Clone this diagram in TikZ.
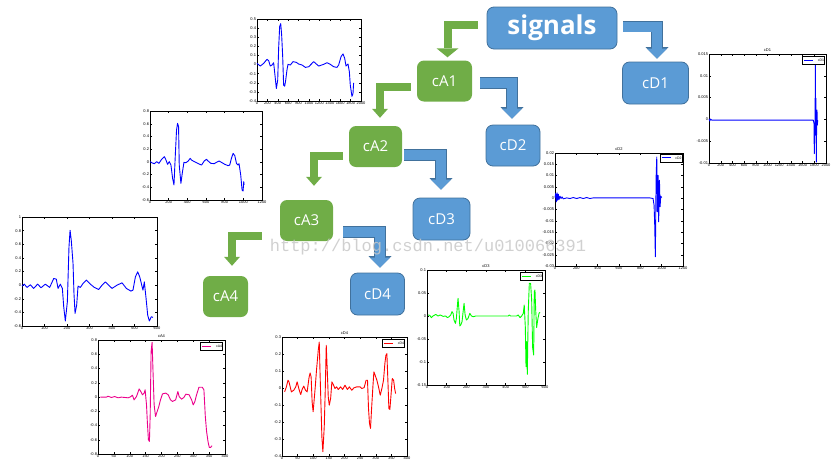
\documentclass[tikz,border=0pt]{standalone}
\usepackage{fontspec}
\usetikzlibrary{arrows.meta,positioning}
\newfontfamily\boxfont{Open Sans}
\newfontfamily\plotfont{Liberation Sans}
\newfontfamily\markfont{Liberation Mono}
\definecolor{boxgreen}{RGB}{112,173,71}
\definecolor{boxblue}{RGB}{91,155,213}
\definecolor{edgeblue}{RGB}{65,113,156}
\definecolor{markgray}{RGB}{200,200,200}
\tikzset{
  abox/.style={rectangle, rounded corners=7pt, fill=boxgreen, text=white,
               font=\boxfont\fontsize{15}{15}\selectfont, minimum height=41pt},
  dbox/.style={abox, fill=boxblue, draw=edgeblue, line width=0.8pt},
  garrow/.style={boxgreen, line width=8pt, line join=miter,
                 -{Triangle[width=#1,length=9pt,line width=0pt]}},
  garrow/.default=16pt,
  barrow/.style={boxblue, line width=10pt, line join=miter,
                 -{Triangle[width=20pt,length=10pt,line width=0pt]},
                 preaction={draw=edgeblue, line width=11.6pt,
                   -{Triangle[width=23pt,length=11.5pt,line width=0pt]}}},
  plotframe/.style={draw, fill=white, line width=0.7pt, inner sep=0pt, outer sep=0pt},
  tickmark/.style={line width=0.4pt},
  ticklabel/.style={inner sep=0.8pt, font=\plotfont\fontsize{4}{4}\selectfont},
  plottitle/.style={inner sep=0.5pt, font=\plotfont\fontsize{4}{4}\selectfont},
  legendbox/.style={draw, fill=white, line width=0.6pt, inner sep=0.6pt, text width=21pt,
                    align=right, minimum height=8pt, font=\plotfont\fontsize{3.5}{3.5}\selectfont},
  sig/.style={line width=0.9pt, line join=round},
  watermark/.style={font=\markfont\fontsize{17}{17}\selectfont, text=markgray, opacity=0.85}
}
% ticks and tick labels of one plot: name, x labels, x steps, y labels, y steps
\newcommand\plotaxes[5]{%
  \foreach \t [count=\k from 0] in {#2} {
    \draw[tickmark] (\k/#3,0) -- ++(0,2pt) (\k/#3,1) -- ++(0,-2pt);
    \node[ticklabel, below] (#1x\k) at (\k/#3,0) {\t};
  }
  \foreach \t [count=\k from 0] in {#4} {
    \draw[tickmark] (0,\k/#5) -- ++(2pt,0) (1,\k/#5) -- ++(-2pt,0);
    \node[ticklabel, left] (#1y\k) at (0,\k/#5) {\t};
  }
}
\begin{document}
\begin{tikzpicture}[x=1pt, y=-1pt]
\useasboundingbox (0,0) rectangle (837,472);

% approximation plots
\node[plotframe, minimum width=104pt, minimum height=82pt] (pA1) at (309,60) {};
\begin{scope}[shift={(pA1.south west)}, x=104pt, y=82pt]
  \plotaxes{A1}{0,200,400,600,800,1000,1200,1400,1600,1800,2000}{10}{-0.4,-0.3,-0.2,-0.1,0,0.1,0.2,0.3,0.4,0.5}{9}
  \draw[sig, blue] plot coordinates {(0,0.459) (0.032,0.426) (0.064,0.459) (0.096,0.508) (0.112,0.492) (0.128,0.426) (0.144,0.439) (0.160,0.467) (0.176,0.275) (0.186,0.152) (0.199,0.254) (0.208,0.643) (0.218,0.910) (0.228,0.943) (0.237,0.807) (0.247,0.541) (0.256,0.193) (0.266,0.180) (0.276,0.254) (0.288,0.377) (0.298,0.447) (0.321,0.439) (0.346,0.480) (0.378,0.471) (0.401,0.451) (0.433,0.439) (0.465,0.410) (0.497,0.418) (0.545,0.480) (0.593,0.426) (0.641,0.447) (0.673,0.467) (0.705,0.447) (0.737,0.418) (0.769,0.410) (0.785,0.439) (0.808,0.541) (0.827,0.574) (0.843,0.521) (0.856,0.426) (0.875,0.451) (0.888,0.357) (0.897,0.193) (0.913,0.057) (0.923,0.090) (0.929,0.221)};
\end{scope}

\node[plotframe, minimum width=112pt, minimum height=89pt] (pA2) at (206,155.5) {};
\begin{scope}[shift={(pA2.south west)}, x=112pt, y=89pt]
  \plotaxes{A2}{0,200,400,600,800,1000,1200}{6}{-0.6,-0.4,-0.2,0,0.2,0.4,0.6,0.8}{7}
  \draw[sig, blue] plot coordinates {(0,0.431) (0.021,0.416) (0.039,0.408) (0.059,0.431) (0.080,0.412) (0.104,0.457) (0.128,0.487) (0.139,0.461) (0.157,0.401) (0.172,0.431) (0.187,0.393) (0.202,0.243) (0.214,0.169) (0.226,0.506) (0.237,0.787) (0.246,0.861) (0.255,0.824) (0.261,0.393) (0.276,0.187) (0.288,0.300) (0.303,0.423) (0.320,0.419) (0.341,0.438) (0.359,0.468) (0.371,0.449) (0.386,0.438) (0.409,0.423) (0.445,0.401) (0.460,0.393) (0.484,0.438) (0.504,0.457) (0.519,0.438) (0.543,0.412) (0.573,0.408) (0.593,0.423) (0.617,0.438) (0.638,0.423) (0.668,0.401) (0.697,0.386) (0.712,0.393) (0.727,0.468) (0.742,0.524) (0.757,0.498) (0.772,0.412) (0.786,0.393) (0.795,0.408) (0.810,0.281) (0.822,0.112) (0.831,0.101) (0.837,0.206) (0.840,0.169)};
\end{scope}

\node[plotframe, minimum width=135pt, minimum height=109pt] (pA3) at (89.5,271.5) {};
\begin{scope}[shift={(pA3.south west)}, x=135pt, y=109pt]
  \plotaxes{A3}{0,100,200,300,400,500,600}{6}{-0.6,-0.4,-0.2,0,0.2,0.4,0.6,0.8,1}{8}
  \draw[sig, blue] plot coordinates {(0,0.366) (0.017,0.384) (0.037,0.354) (0.062,0.378) (0.086,0.345) (0.116,0.384) (0.141,0.351) (0.173,0.384) (0.205,0.354) (0.235,0.436) (0.254,0.430) (0.267,0.345) (0.284,0.384) (0.299,0.345) (0.309,0.177) (0.321,0.046) (0.336,0.223) (0.348,0.726) (0.356,0.878) (0.365,0.787) (0.378,0.573) (0.385,0.299) (0.393,0.116) (0.405,0.192) (0.415,0.366) (0.432,0.354) (0.452,0.390) (0.477,0.421) (0.506,0.384) (0.536,0.354) (0.568,0.335) (0.593,0.375) (0.617,0.405) (0.642,0.375) (0.667,0.345) (0.704,0.375) (0.741,0.396) (0.773,0.345) (0.807,0.320) (0.822,0.329) (0.840,0.451) (0.857,0.497) (0.872,0.451) (0.884,0.390) (0.896,0.329) (0.906,0.405) (0.919,0.253) (0.931,0.101) (0.943,0.046) (0.958,0.085) (0.970,0.079)};
\end{scope}

\node[plotframe, minimum width=127pt, minimum height=114pt] (pA4) at (161.5,397) {};
\begin{scope}[shift={(pA4.south west)}, x=127pt, y=114pt]
  \plotaxes{A4}{0,50,100,150,200,250,300,350,400}{8}{-0.8,-0.6,-0.4,-0.2,0,0.2,0.4,0.6,0.8}{8}
  \draw[sig, magenta] plot coordinates {(0.018,0.499) (0.066,0.499) (0.079,0.507) (0.105,0.496) (0.132,0.504) (0.158,0.493) (0.184,0.499) (0.237,0.493) (0.255,0.501) (0.271,0.516) (0.284,0.475) (0.303,0.504) (0.324,0.571) (0.337,0.548) (0.350,0.519) (0.363,0.534) (0.371,0.563) (0.382,0.431) (0.389,0.271) (0.397,0.125) (0.405,0.111) (0.411,0.344) (0.418,0.898) (0.426,0.980) (0.434,0.694) (0.442,0.431) (0.453,0.329) (0.466,0.373) (0.479,0.417) (0.492,0.475) (0.508,0.528) (0.534,0.534) (0.553,0.519) (0.571,0.475) (0.587,0.461) (0.611,0.475) (0.629,0.548) (0.639,0.504) (0.658,0.481) (0.676,0.496) (0.692,0.525) (0.718,0.519) (0.737,0.475) (0.750,0.431) (0.763,0.461) (0.776,0.519) (0.795,0.586) (0.821,0.586) (0.834,0.563) (0.845,0.329) (0.855,0.198) (0.866,0.111) (0.876,0.058) (0.887,0.058) (0.897,0.073)};
\end{scope}
\node[plottitle, above=1.5pt of pA4] (tA4) {cA4};
\node[legendbox, anchor=north east] (lA4) at ([xshift=-2pt,yshift=-2pt]pA4.north east) {cA4};
\draw[sig, magenta] ([xshift=2pt]lA4.west) -- ++(9pt,0);

% detail plots
\node[plotframe, minimum width=117pt, minimum height=109pt] (pD1) at (767.5,108.5) {};
\begin{scope}[shift={(pD1.south west)}, x=117pt, y=109pt]
  \plotaxes{D1}{0,200,400,600,800,1000,1200,1400,1600,1800,2000}{10}{-0.01,-0.005,0,0.005,0.01,0.015}{5}
  \draw[sig, blue] plot coordinates {(0,0.406) (0.006,0.385) (0.014,0.403) (0.023,0.394) (0.891,0.394) (0.897,0.363) (0.9,0.086) (0.903,0.363) (0.906,0.255) (0.909,0.902) (0.911,0.394) (0.914,0.594) (0.917,0.009) (0.920,0.363) (0.923,0.486) (0.926,0.348) (0.929,0.394)};
\end{scope}
\node[plottitle, above=1.5pt of pD1] (tD1) {cD1};
\node[legendbox, anchor=north east] (lD1) at ([xshift=-1pt,yshift=-2pt]pD1.north east) {cD1};
\draw[sig, blue] ([xshift=2pt]lD1.west) -- ++(9pt,0);

\node[plotframe, minimum width=128pt, minimum height=113pt] (pD2) at (619,209.5) {};
\begin{scope}[shift={(pD2.south west)}, x=128pt, y=113pt]
  \plotaxes{D2}{0,200,400,600,800,1000,1200}{6}{-0.03,-0.025,-0.02,-0.015,-0.01,-0.005,0,0.005,0.01,0.015,0.02}{10}
  \draw[sig, blue] plot coordinates {(0,0.606) (0.005,0.641) (0.010,0.568) (0.016,0.647) (0.021,0.582) (0.026,0.635) (0.031,0.588) (0.039,0.618) (0.047,0.597) (0.055,0.612) (0.065,0.594) (0.091,0.603) (0.117,0.597) (0.143,0.606) (0.169,0.597) (0.195,0.606) (0.221,0.597) (0.247,0.606) (0.273,0.597) (0.299,0.603) (0.740,0.603) (0.766,0.597) (0.774,0.538) (0.779,0.362) (0.784,0.082) (0.790,0.788) (0.795,0.965) (0.800,0.479) (0.805,0.803) (0.810,0.391) (0.816,0.759) (0.821,0.524) (0.826,0.618) (0.834,0.606)};
\end{scope}
\node[plottitle, above=1.5pt of pD2] (tD2) {cD2};
\node[legendbox, anchor=north east] (lD2) at ([xshift=-0.5pt,yshift=-0.5pt]pD2.north east) {cD2};
\draw[sig, blue] ([xshift=2pt]lD2.west) -- ++(9pt,0);

\node[plotframe, minimum width=118pt, minimum height=115pt] (pD3) at (486,327.5) {};
\begin{scope}[shift={(pD3.south west)}, x=118pt, y=115pt]
  \plotaxes{D3}{0,100,200,300,400,500,600}{6}{-0.15,-0.1,-0.05,0,0.05,0.1}{5}
  \draw[sig, green] plot coordinates {(0.008,0.609) (0.023,0.606) (0.037,0.586) (0.051,0.600) (0.074,0.614) (0.093,0.600) (0.113,0.609) (0.136,0.597) (0.159,0.600) (0.173,0.586) (0.187,0.594) (0.201,0.609) (0.212,0.638) (0.221,0.623) (0.229,0.565) (0.241,0.536) (0.249,0.580) (0.258,0.696) (0.263,0.754) (0.272,0.638) (0.278,0.513) (0.286,0.522) (0.297,0.551) (0.306,0.638) (0.314,0.710) (0.323,0.609) (0.334,0.565) (0.348,0.580) (0.363,0.623) (0.377,0.600) (0.391,0.594) (0.414,0.600) (0.688,0.600) (0.697,0.609) (0.708,0.600) (0.759,0.600) (0.773,0.609) (0.788,0.586) (0.802,0.600) (0.816,0.623) (0.824,0.696) (0.833,0.507) (0.839,0.159) (0.844,0.377) (0.850,0.093) (0.858,0.638) (0.867,0.884) (0.878,0.884) (0.887,0.739) (0.895,0.325) (0.904,0.261) (0.909,0.812) (0.915,0.826) (0.921,0.652) (0.929,0.499) (0.938,0.565) (0.949,0.623) (0.958,0.632)};
\end{scope}
\node[plottitle, above=1.5pt of pD3] (tD3) {cD3};
\node[legendbox, anchor=north east] (lD3) at ([xshift=-2pt,yshift=-2pt]pD3.north east) {cD3};
\draw[sig, green] ([xshift=2pt]lD3.west) -- ++(9pt,0);

\node[plotframe, minimum width=125pt, minimum height=119pt] (pD4) at (344.5,396.5) {};
\begin{scope}[shift={(pD4.south west)}, x=125pt, y=119pt]
  \plotaxes{D4}{0,50,100,150,200,250,300,350,400}{8}{-0.4,-0.3,-0.2,-0.1,0,0.1,0.2,0.3}{7}
  \draw[sig, red] plot coordinates {(0.021,0.539) (0.035,0.581) (0.048,0.637) (0.056,0.623) (0.075,0.539) (0.094,0.553) (0.110,0.581) (0.121,0.623) (0.131,0.581) (0.142,0.539) (0.150,0.517) (0.161,0.559) (0.174,0.587) (0.188,0.553) (0.201,0.539) (0.217,0.665) (0.225,0.698) (0.233,0.665) (0.241,0.455) (0.249,0.372) (0.257,0.469) (0.265,0.567) (0.276,0.721) (0.290,0.888) (0.298,0.958) (0.303,0.749) (0.311,0.455) (0.319,0.162) (0.327,0.036) (0.338,0.246) (0.346,0.553) (0.354,0.930) (0.362,0.721) (0.370,0.497) (0.378,0.427) (0.389,0.483) (0.399,0.623) (0.410,0.601) (0.424,0.567) (0.437,0.581) (0.450,0.559) (0.469,0.581) (0.485,0.559) (0.504,0.595) (0.523,0.559) (0.539,0.581) (0.558,0.553) (0.576,0.573) (0.598,0.581) (0.625,0.581) (0.638,0.567) (0.657,0.575) (0.673,0.637) (0.684,0.637) (0.692,0.399) (0.700,0.274) (0.708,0.232) (0.716,0.385) (0.727,0.581) (0.735,0.707) (0.745,0.679) (0.759,0.637) (0.772,0.581) (0.786,0.511) (0.799,0.567) (0.812,0.637) (0.823,0.777) (0.831,0.846) (0.839,0.860) (0.847,0.637) (0.855,0.399) (0.863,0.391) (0.871,0.497) (0.882,0.651) (0.893,0.637) (0.901,0.567) (0.909,0.525)};
\end{scope}
\node[plottitle, above=1.5pt of pD4] (tD4) {cD4};
\node[legendbox, anchor=north east] (lD4) at ([xshift=-2pt,yshift=-2pt]pD4.north east) {cD4};
\draw[sig, red] ([xshift=2pt]lD4.west) -- ++(9pt,0);

% decomposition tree
\node[dbox, minimum width=130pt, minimum height=42pt, font=\boxfont\bfseries\fontsize{26}{26}\selectfont] (signals) at (552,28) {signals};
\node[abox, minimum width=55pt] (cA1) at (444.5,81) {cA1};
\node[dbox, minimum width=66pt, minimum height=42pt] (cD1) at (655.5,83) {cD1};
\node[abox, minimum width=53pt] (cA2) at (375.5,146.5) {cA2};
\node[dbox, minimum width=54pt] (cD2) at (513,145.5) {cD2};
\node[abox, minimum width=53pt] (cA3) at (306.5,220.5) {cA3};
\node[dbox, minimum width=57pt, minimum height=42pt] (cD3) at (441.5,219) {cD3};
\node[abox, minimum width=45pt] (cA4) at (225.5,296.5) {cA4};
\node[dbox, minimum width=54pt, minimum height=42pt] (cD4) at (377.5,294) {cD4};

\draw[garrow=22pt] ([xshift=-9pt,yshift=3.5pt]signals.west) -| ([xshift=3pt,yshift=3pt]cA1.north);
\draw[barrow] ([xshift=6pt,yshift=1.5pt]signals.east) -| ([xshift=1.5pt,yshift=3pt]cD1.north);
\draw[garrow] ([xshift=-6pt,yshift=-6pt]cA1.west) -| ([xshift=4.5pt,yshift=8pt]cA2.north);
\draw[barrow] ([xshift=8pt,yshift=-2pt]cA1.east) -| ([xshift=-1pt,yshift=6pt]cD2.north);
\draw[garrow] ([xshift=-6pt,yshift=-9pt]cA2.west) -| ([xshift=7.5pt,yshift=14pt]cA3.north);
\draw[barrow] ([xshift=2pt,yshift=-8.5pt]cA2.east) -| ([xshift=-0.5pt,yshift=8pt]cD3.north);
\draw[garrow] ([xshift=-18pt,yshift=-15.5pt]cA3.west) -| ([xshift=6.5pt,yshift=10pt]cA4.north);
\draw[barrow] ([xshift=10pt,yshift=-11.5pt]cA3.east) -| ([xshift=2.5pt,yshift=5pt]cD4.north);

\node[watermark] (wm) at (428,247) {http://blog.csdn.net/u010066391};
\end{tikzpicture}
\end{document}
